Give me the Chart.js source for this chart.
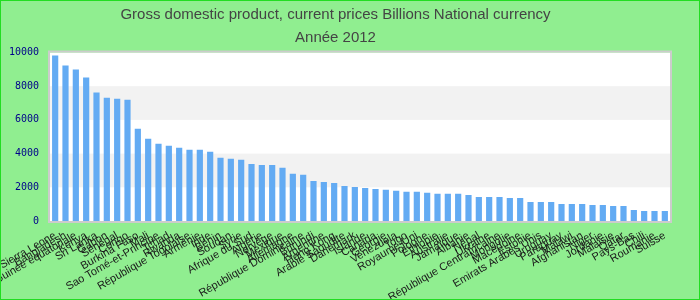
<!DOCTYPE html>
<html>
<head>
<meta charset="utf-8">
<script src="https://cdn.jsdelivr.net/npm/chart.js@4"></script>
<style>
    html, body { margin: 0; padding: 0; }
    body { width: 700px; height: 300px; background: #90ee90; }
    #wrap { position: relative; width: 698px; height: 298px; border: 1px solid #22dd22; }
</style>
</head>
<body>
<div id="wrap"><canvas id="myChart"></canvas></div>
<script>
// Pays (catégories)
const pays = [
    'Sierra Leone', 'Bangladesh', 'Guinée équatoriale', 'Kenya', 'Sri Lanka', 'Gabon',
    'Sénégal', 'Congo', 'Burkina Faso', 'Mali', 'Sao Tomé-et-Principe', 'Tchad',
    'Rwanda', 'République Togolaise', 'Arménie', 'Inde', 'Bénin', 'Soudan',
    'Syrie', 'Afrique du Sud', 'Algérie', 'Norvège', 'Mexique', 'Allemagne',
    'République Dominicaine', 'Burundi', 'Argentine', 'Hong Kong', 'Arabie Saoudite', 'Danemark',
    'Islande', 'Canada', 'Géorgie', 'Venezuela', 'Togo', 'Royaume-Uni',
    'Pologne', 'Éthiopie', 'Australie', 'Jamaïque', 'Albanie', 'Népal',
    'Ukraine', 'République Centrafricaine', 'Mongolie', 'Macédoine', 'Estonie', 'Emirats Arabes Unis',
    'Uruguay', 'Paraguay', 'Malawi', 'Afghanistan', 'Niger', 'Jordanie',
    'Malaisie', 'Qatar', 'Pays-Bas', 'Chili', 'Roumanie', 'Suisse'
];

// PIB 2012 (milliards, monnaie nationale)
const pib = [
    9820, 9230, 8990, 8510, 7620, 7320, 7260, 7200, 5480, 4880,
    4580, 4460, 4350, 4230, 4230, 4110, 3750, 3690, 3630, 3390,
    3330, 3330, 3160, 2800, 2740, 2380, 2320, 2260, 2080, 2020,
    1960, 1900, 1850, 1790, 1730, 1730, 1670, 1610, 1610, 1610,
    1550, 1430, 1430, 1430, 1370, 1370, 1130, 1130, 1130, 1010,
    1010, 1010, 950, 950, 890, 890, 660, 600, 600, 600
];

const yTicks = [0, 2000, 4000, 6000, 8000, 10000];
const titre = ['Gross domestic product, current prices Billions National currency', 'Année 2012'];

// Fond du graphique: bandes alternées
const bandes = {
    id: 'bandes',
    beforeDraw(chart) {
        const { ctx, chartArea: a, scales: { y } } = chart;
        ctx.save();
        ctx.fillStyle = '#ffffff';
        ctx.fillRect(a.left, a.top, a.right - a.left, a.bottom - a.top);
        ctx.fillStyle = '#f2f2f2';
        for (let i = 1; i < yTicks.length - 1; i += 2) {
            const y1 = y.getPixelForValue(yTicks[i + 1]);
            const y0 = y.getPixelForValue(yTicks[i]);
            ctx.fillRect(a.left, y1, a.right - a.left, y0 - y1);
        }
        ctx.strokeStyle = '#cccccc';
        ctx.lineWidth = 2;
        ctx.strokeRect(a.left - 1, a.top - 1, a.right - a.left + 2, a.bottom - a.top + 2);
        ctx.restore();
    }
};

const ctx = document.getElementById('myChart').getContext('2d');
new Chart(ctx, {
    type: 'bar',
    data: {
        labels: pays,
        datasets: [{
            label: 'PIB',
            data: pib,
            backgroundColor: '#63abf3',
            barPercentage: 0.6,
            categoryPercentage: 1
        }]
    },
    options: {
        responsive: true,
        maintainAspectRatio: false,
        animation: false,
        layout: { padding: { left: 0, right: 29, top: 0, bottom: 0 } },
        plugins: {
            legend: { display: false },
            tooltip: { enabled: false },
            title: {
                display: true,
                text: titre,
                color: '#444444',
                font: { family: '"Liberation Sans Narrow", "Liberation Sans", Arial', size: 15, weight: 'normal', lineHeight: 1.55 },
                padding: { top: 2, bottom: 3 }
            }
        },
        scales: {
            x: {
                grid: { display: false },
                border: { display: false },
                ticks: {
                    autoSkip: false,
                    maxRotation: 30,
                    minRotation: 30,
                    color: '#1a1a1a',
                    padding: 0,
                    font: { family: '"Liberation Sans", Arial', size: 11 }
                },
                afterFit(scale) {
                    scale.height = 78;
                    scale.paddingLeft = 0;
                    scale.paddingRight = 0;
                }
            },
            y: {
                min: 0,
                max: 10000,
                grid: { display: false },
                border: { display: false },
                afterBuildTicks(scale) {
                    scale.ticks = yTicks.map(v => ({ value: v }));
                },
                ticks: {
                    color: '#00008b',
                    padding: 3,
                    font: { family: '"DejaVu Sans Mono", monospace', size: 10 },
                    callback: v => String(v)
                },
                afterFit(scale) {
                    scale.width = 49;
                }
            }
        }
    },
    plugins: [bandes]
});
</script>
</body>
</html>
